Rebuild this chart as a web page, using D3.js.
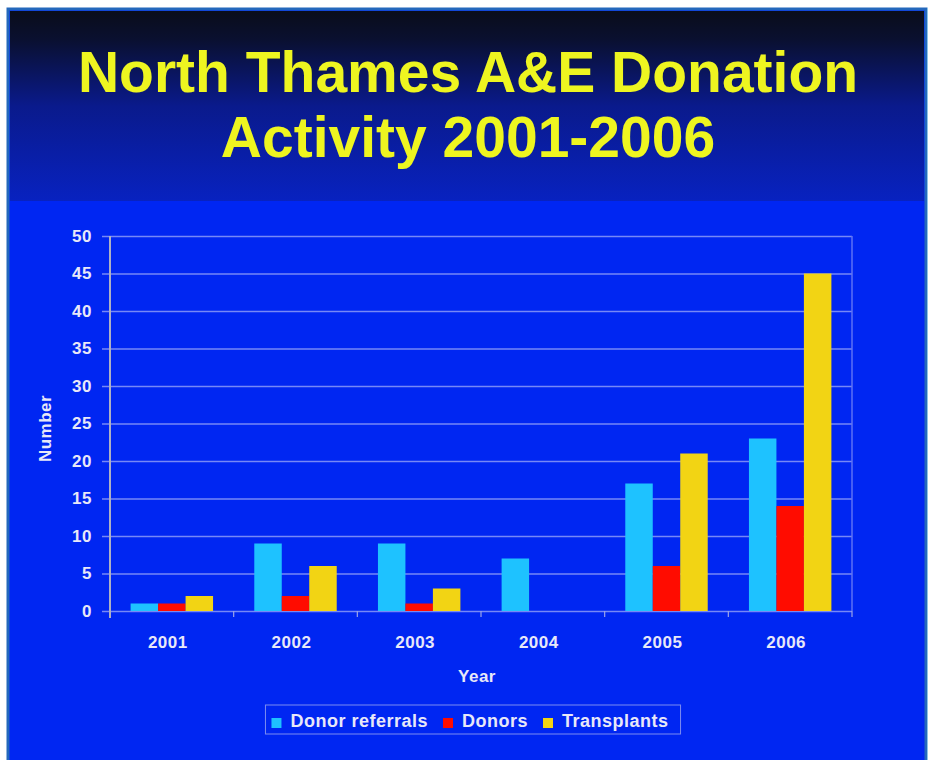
<!DOCTYPE html>
<html>
<head>
<meta charset="utf-8">
<script src="https://cdn.jsdelivr.net/npm/d3@7"></script>
<style>
  body { margin: 0; background: #fff; }
  svg { display: block; font-family: "Liberation Sans", Arial, sans-serif; }
</style>
</head>
<body>
<svg width="931" height="760"></svg>
<script>
// data
var years = ["2001", "2002", "2003", "2004", "2005", "2006"];
var series = ["Donor referrals", "Donors", "Transplants"];
var referrals = [1, 9, 9, 7, 17, 23];
var donors = [1, 2, 1, 0, 6, 14];
var transplants = [2, 6, 3, 0, 21, 45];
var yTicks = [0, 5, 10, 15, 20, 25, 30, 35, 40, 45, 50];
var titleLines = ["North Thames A&E Donation", "Activity 2001-2006"];

var colors = ["#1ec2ff", "#ff0c00", "#f2d414"];
var values = [referrals, donors, transplants];

var svg = d3.select("svg"),
    margin = {top: 236, left: 110, right: 79, bottom: 149},
    width = +svg.attr("width") - margin.left - margin.right,
    height = +svg.attr("height") - margin.top - margin.bottom;

// slide background
var defs = svg.append("defs");
var grad = defs.append("linearGradient").attr("id", "topgrad")
    .attr("x1", 0).attr("y1", 0).attr("x2", 0).attr("y2", 1);
grad.append("stop").attr("offset", "0").attr("stop-color", "#0a0d1a");
grad.append("stop").attr("offset", "0.15").attr("stop-color", "#0a1030");
grad.append("stop").attr("offset", "0.5").attr("stop-color", "#0a1a8c");
grad.append("stop").attr("offset", "1").attr("stop-color", "#0822c0");

svg.append("rect").attr("x", 8).attr("y", 9).attr("width", 918).attr("height", 760)
    .attr("fill", "#0026f2").attr("stroke", "#2468bc").attr("stroke-width", 3);
svg.append("rect").attr("x", 10).attr("y", 11).attr("width", 914).attr("height", 190)
    .attr("fill", "url(#topgrad)");
svg.append("line").attr("x1", 927.5).attr("x2", 927.5).attr("y1", 8).attr("y2", 760)
    .attr("stroke", "#8cc4e8").attr("stroke-width", 1);

// title
svg.append("g").selectAll("text")
    .data(titleLines)
    .join("text")
    .attr("x", 468)
    .attr("y", function(d, i) { return 92 + i * 65; })
    .attr("text-anchor", "middle")
    .attr("font-size", 57)
    .attr("font-weight", "bold")
    .attr("fill", "#eef520")
    .text(function(d) { return d; });

var g = svg.append("g").attr("transform", "translate(" + margin.left + "," + margin.top + ")");

var x0 = d3.scaleBand().domain(years).range([0, width]).padding(0);
var x1 = d3.scaleBand().domain(series).range([0, x0.bandwidth()]).paddingInner(0).paddingOuter(0.75);
var y = d3.scaleLinear().domain([0, 50]).range([height, 0]);

// gridlines + y labels
var yAxis = d3.axisLeft(y).tickValues(yTicks).tickSizeInner(-width).tickSizeOuter(0);
var gy = g.append("g").call(yAxis);
gy.select(".domain").remove();
gy.selectAll(".tick line").attr("x1", -8).attr("stroke", "#7688f6").attr("stroke-width", 1.5);
gy.selectAll(".tick text").attr("x", -18).attr("fill", "#e8e8f8")
    .attr("font-size", 17).attr("font-weight", "bold").attr("letter-spacing", 0.5)
    .attr("font-family", "Liberation Sans, Arial, sans-serif");

// right border of plot
g.append("line").attr("x1", width).attr("x2", width).attr("y1", 0).attr("y2", height)
    .attr("stroke", "#5c72f4").attr("stroke-width", 1.5);

// x ticks at band edges
var edges = years.map(function(d) { return x0(d); }).concat([width]);
g.append("g").selectAll("line")
    .data(edges)
    .join("line")
    .attr("x1", function(d) { return d; }).attr("x2", function(d) { return d; })
    .attr("y1", height).attr("y2", height + 6)
    .attr("stroke", "#9aa4e8").attr("stroke-width", 1.2);

// bars
var groups = g.append("g").selectAll("g")
    .data(years)
    .join("g")
    .attr("transform", function(d) { return "translate(" + x0(d) + ",0)"; });

groups.selectAll("rect")
    .data(function(d, i) {
        return series.map(function(s, k) { return {s: s, k: k, v: values[k][i]}; });
    })
    .join("rect")
    .attr("x", function(d) { return x1(d.s); })
    .attr("y", function(d) { return y(d.v); })
    .attr("width", x1.bandwidth())
    .attr("height", function(d) { return height - y(d.v); })
    .attr("fill", function(d) { return colors[d.k]; });

// y axis line
g.append("line").attr("x1", 0).attr("x2", 0).attr("y1", 0).attr("y2", height + 7)
    .attr("stroke", "#aeb0c4").attr("stroke-width", 2);

// x labels
g.append("g").selectAll("text")
    .data(years)
    .join("text")
    .attr("x", function(d) { return x0(d) + x0.bandwidth() / 2 - 4; })
    .attr("y", height + 37)
    .attr("text-anchor", "middle")
    .attr("font-size", 17).attr("font-weight", "bold").attr("letter-spacing", 0.5)
    .attr("fill", "#e8e8f8")
    .text(function(d) { return d; });

// axis titles
g.append("text")
    .attr("x", width / 2 - 4).attr("y", height + 71)
    .attr("text-anchor", "middle")
    .attr("font-size", 17).attr("font-weight", "bold").attr("letter-spacing", 0.5)
    .attr("fill", "#e8e8f8")
    .text("Year");

g.append("text")
    .attr("transform", "translate(-59," + (height / 2 + 5) + ") rotate(-90)")
    .attr("text-anchor", "middle")
    .attr("font-size", 17).attr("font-weight", "bold").attr("letter-spacing", 0.5)
    .attr("fill", "#e8e8f8")
    .text("Number");

// legend
var legend = svg.append("g");
var box = legend.append("rect").attr("fill", "none")
    .attr("stroke", "#7c8cf0").attr("stroke-width", 1);
var items = legend.selectAll("g")
    .data(series)
    .join("g");
items.append("rect")
    .attr("width", 10).attr("height", 10)
    .attr("y", -9)
    .attr("fill", function(d, i) { return colors[i]; });
items.append("text")
    .attr("x", 19).attr("y", 0)
    .attr("font-size", 18).attr("font-weight", "bold").attr("letter-spacing", 0.5)
    .attr("fill", "#e8e8f8")
    .text(function(d) { return d; });

var cx = 6;
items.each(function() {
    var w = d3.select(this).select("text").node().getComputedTextLength();
    d3.select(this).attr("transform", "translate(" + cx + ",0)");
    cx += 19 + w + 15;
});
var totalW = cx - 15 + 12;
var lx = 473 - totalW / 2;
legend.attr("transform", "translate(" + lx + ",727)");
box.attr("x", 0).attr("y", -22).attr("width", totalW).attr("height", 29);
</script>
</body>
</html>
